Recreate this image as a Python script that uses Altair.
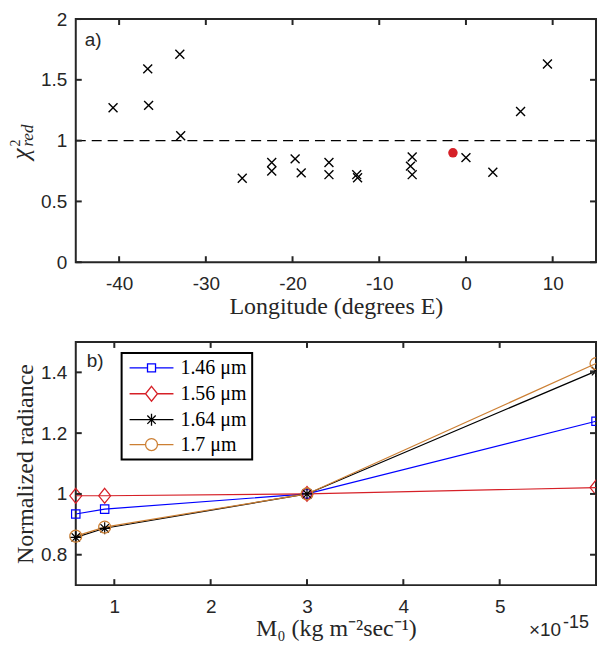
import altair as alt
import pandas as pd

# ---------------- Panel a data ----------------
lon = [-40.7, -36.7, -36.6, -33.0, -32.9, -25.8, -22.4, -22.4, -19.7, -19.0,
       -15.8, -15.8, -12.6, -12.5, -6.2, -6.4, -6.2, 0.0, 3.1, 6.3, 9.4]
chi = [1.27, 1.59, 1.29, 1.71, 1.04, 0.69, 0.82, 0.75, 0.85, 0.735,
       0.82, 0.72, 0.72, 0.695, 0.865, 0.79, 0.72, 0.86, 0.74, 1.24, 1.63]
best_lon = [-1.5]
best_chi = [0.90]
xa_ticks = [-40, -30, -20, -10, 0, 10]
ya_ticks = [0, 0.5, 1, 1.5, 2]

# ---------------- Panel b data ----------------
m0 = [0.6, 0.9, 3.0, 6.0]
rad_146 = [0.934, 0.950, 1.0, 1.239]
rad_156 = [0.994, 0.994, 1.0, 1.021]
rad_164 = [0.857, 0.887, 1.0, 1.404]
rad_170 = [0.861, 0.891, 1.0, 1.429]
series = ["1.46 μm", "1.56 μm", "1.64 μm", "1.7 μm"]
colors = ["#0000ff", "#d62027", "#000000", "#cc7f33"]
xb_ticks = [1, 2, 3, 4, 5]
yb_ticks = [0.8, 1.0, 1.2, 1.4]

W, H = 522, 244
FRAME = "#262626"
TL = 6

# marker paths (unit = sqrt(size)/2 px)
data_shapes = [
    "M-0.7,-0.7L0.7,-0.7L0.7,0.7L-0.7,0.7Z",
    "M0,-1.25L1,0L0,1.25L-1,0Z",
    "M0,-1L0,1M-1,0L1,0M-0.7,-0.7L0.7,0.7M-0.7,0.7L0.7,-0.7",
    "circle",
]
legend_shapes = [
    "M-1.17,0L1.83,0M3.17,0L6.17,0M1.83,-0.67L3.17,-0.67L3.17,0.67L1.83,0.67Z",
    "M-1.17,0L1.5,0M3.5,0L6.17,0M2.5,-1.25L3.5,0L2.5,1.25L1.5,0Z",
    "M-1.17,0L6.17,0M2.5,-1L2.5,1M1.8,-0.7L3.2,0.7M1.8,0.7L3.2,-0.7",
    "M-1.17,0L1.5,0M3.5,0L6.17,0M3.5,0A1,1,0,1,1,1.5,0A1,1,0,1,1,3.5,0",
]

LBL = "'' + datum.value"

# ================= Panel a =================
dfa = pd.DataFrame({"lon": lon, "chi": chi})
dfbest = pd.DataFrame({"lon": best_lon, "chi": best_chi})
xa = alt.X("lon:Q", scale=alt.Scale(domain=[-45, 15], nice=False, zero=False),
           axis=alt.Axis(values=xa_ticks, labelExpr=LBL, title="Longitude (degrees E)"))
ya = alt.Y("chi:Q", scale=alt.Scale(domain=[0, 2], nice=False, zero=False),
           axis=alt.Axis(values=ya_ticks, labelExpr=LBL, title=None))

ref_line = alt.Chart(pd.DataFrame({"chi": [1.0]})).mark_rule(
    color="black", strokeWidth=1.4, strokeDash=[10, 6]).encode(y=ya)
xmarks = alt.Chart(dfa).mark_point(
    shape="M-1,-1L1,1M-1,1L1,-1", size=80, filled=False, color="black",
    strokeWidth=1.4, opacity=1).encode(x=xa, y=ya)
best = alt.Chart(dfbest).mark_point(
    shape="circle", size=90, filled=True, color="#d62027", opacity=1).encode(x=xa, y=ya)

txa = pd.DataFrame({"lon": xa_ticks})
tya = pd.DataFrame({"chi": ya_ticks})
tick_style = dict(color=FRAME, strokeWidth=2)
ta1 = alt.Chart(txa).mark_rule(**tick_style).encode(x=xa, y=alt.value(H), y2=alt.value(H - TL))
ta2 = alt.Chart(txa).mark_rule(**tick_style).encode(x=xa, y=alt.value(0), y2=alt.value(TL))
ta3 = alt.Chart(tya).mark_rule(**tick_style).encode(y=ya, x=alt.value(0), x2=alt.value(TL))
ta4 = alt.Chart(tya).mark_rule(**tick_style).encode(y=ya, x=alt.value(W), x2=alt.value(W - TL))

lab_a = alt.Chart(pd.DataFrame({"t": ["a)"]})).mark_text(
    align="left", baseline="alphabetic", font="Liberation Sans", fontSize=19,
    color=FRAME).encode(x=alt.value(9), y=alt.value(27), text="t:N")

chi_main = alt.Chart(pd.DataFrame({"t": ["χ"]})).mark_text(
    align="left", baseline="alphabetic", angle=270, font="Liberation Serif",
    fontStyle="italic", fontSize=25, color=FRAME).encode(
    x=alt.value(-47), y=alt.value(141), text="t:N")
chi_sup = alt.Chart(pd.DataFrame({"t": ["2"]})).mark_text(
    align="left", baseline="alphabetic", angle=270, font="Liberation Serif",
    fontSize=14, color=FRAME).encode(
    x=alt.value(-56), y=alt.value(128), text="t:N")
chi_sub = alt.Chart(pd.DataFrame({"t": ["red"]})).mark_text(
    align="left", baseline="alphabetic", angle=270, font="Liberation Serif",
    fontStyle="italic", fontSize=17, color=FRAME).encode(
    x=alt.value(-43), y=alt.value(128), text="t:N")

panel_a = alt.layer(ref_line, xmarks, best, ta1, ta2, ta3, ta4, lab_a,
                    chi_main, chi_sup, chi_sub).properties(width=W, height=H)

# ================= Panel b =================
dfb = pd.DataFrame({
    "m0": m0 * 4,
    "rad": rad_146 + rad_156 + rad_164 + rad_170,
    "series": [s for s in series for _ in m0],
})
xb = alt.X("m0:Q", scale=alt.Scale(domain=[0.6, 6], nice=False, zero=False),
           axis=alt.Axis(values=xb_ticks, labelExpr=LBL, title="M₀ (kg m⁻²sec⁻¹)"))
yb = alt.Y("rad:Q", scale=alt.Scale(domain=[0.7, 1.5], nice=False, zero=False),
           axis=alt.Axis(values=yb_ticks, labelExpr=LBL, title="Normalized radiance"))
cscale = alt.Scale(domain=series, range=colors)
color_nl = alt.Color("series:N", scale=cscale, legend=None)
shape_nl = alt.Shape("series:N", scale=alt.Scale(domain=series, range=data_shapes), legend=None)

leg = alt.Legend(title=None, orient="none", legendX=46, legendY=11,
                 strokeColor="black", fillColor="white", padding=5,
                 labelFont="Liberation Serif", labelFontSize=20, labelColor="black",
                 labelOffset=34, symbolSize=144, symbolStrokeWidth=1.3,
                 symbolOpacity=1, rowPadding=5, labelLimit=200)

lines = alt.Chart(dfb).mark_line(strokeWidth=1.2).encode(x=xb, y=yb, color=color_nl)
pts_in = alt.Chart(dfb).transform_filter("datum.m0 < 6").mark_point(
    filled=False, size=144, strokeWidth=1.2, opacity=1).encode(
    x=xb, y=yb, color=color_nl, shape=shape_nl)
pts_edge = alt.Chart(dfb).transform_filter("datum.m0 >= 6").mark_point(
    filled=False, size=144, strokeWidth=1.2, opacity=1, clip=True).encode(
    x=xb, y=yb, color=color_nl, shape=shape_nl)
hidden = alt.Chart(dfb).mark_point(filled=False, size=144, opacity=0, clip=True).encode(
    x=xb, y=yb,
    color=alt.Color("series:N", scale=cscale, legend=leg),
    shape=alt.Shape("series:N", scale=alt.Scale(domain=series, range=legend_shapes), legend=leg))

txb = pd.DataFrame({"m0": xb_ticks})
tyb = pd.DataFrame({"rad": yb_ticks})
tb1 = alt.Chart(txb).mark_rule(**tick_style).encode(x=xb, y=alt.value(H), y2=alt.value(H - TL))
tb2 = alt.Chart(txb).mark_rule(**tick_style).encode(x=xb, y=alt.value(0), y2=alt.value(TL))
tb3 = alt.Chart(tyb).mark_rule(**tick_style).encode(y=yb, x=alt.value(0), x2=alt.value(TL))
tb4 = alt.Chart(tyb).mark_rule(**tick_style).encode(y=yb, x=alt.value(W), x2=alt.value(W - TL))

lab_b = alt.Chart(pd.DataFrame({"t": ["b)"]})).mark_text(
    align="left", baseline="alphabetic", font="Liberation Sans", fontSize=19,
    color=FRAME).encode(x=alt.value(11), y=alt.value(25), text="t:N")
exp_base = alt.Chart(pd.DataFrame({"t": ["×10"]})).mark_text(
    align="right", baseline="alphabetic", font="Liberation Sans", fontSize=19,
    color=FRAME).encode(x=alt.value(487), y=alt.value(295), text="t:N")
exp_pow = alt.Chart(pd.DataFrame({"t": ["-15"]})).mark_text(
    align="left", baseline="alphabetic", font="Liberation Sans", fontSize=18,
    color=FRAME).encode(x=alt.value(489), y=alt.value(287), text="t:N")

panel_b = alt.layer(lines, pts_in, pts_edge, hidden, tb1, tb2, tb3, tb4,
                    lab_b, exp_base, exp_pow).resolve_scale(
    color="independent", shape="independent").properties(width=W, height=H)

chart = alt.vconcat(panel_a, panel_b, spacing=80, bounds="flush").properties(
    padding={"left": 0, "top": 0, "right": 0, "bottom": 0}
).configure_view(
    stroke=FRAME, strokeWidth=2
).configure_axis(
    domain=False, ticks=False, tickSize=0, grid=False,
    labelFont="Liberation Sans", labelFontSize=19, labelColor=FRAME,
    titleFont="Liberation Serif", titleFontSize=24, titleFontWeight="normal",
    titleColor=FRAME
).configure_axisX(
    labelPadding=12, titlePadding=1
).configure_axisY(
    labelPadding=9, titlePadding=3
).configure_legend(
    strokeWidth=2
)

chart.save("out.html", embed_options={"renderer": "svg", "actions": False})
